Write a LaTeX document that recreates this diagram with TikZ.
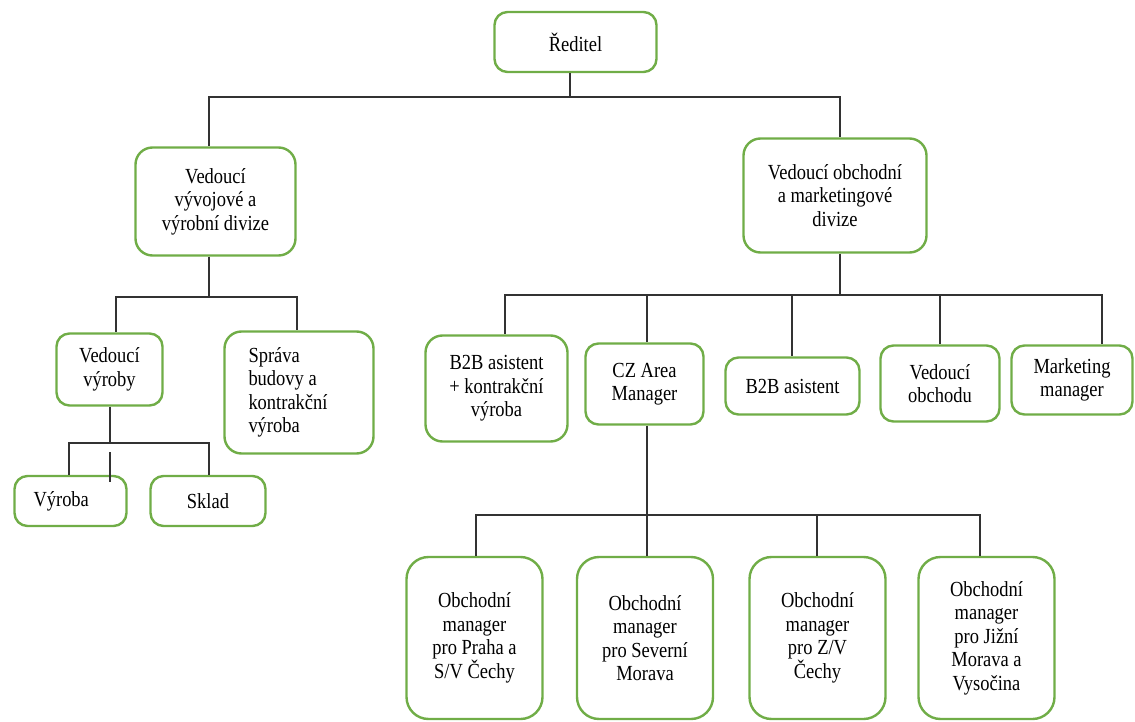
\documentclass[tikz,border=0pt]{standalone}
\usepackage{fontspec}
\setmainfont[FakeStretch=0.86]{Liberation Serif}
\definecolor{boxgreen}{RGB}{112,173,71}
\definecolor{linegray}{RGB}{50,50,50}
\newcommand\orgfont{\fontsize{21.5}{23.5}\selectfont}
\begin{document}
\begin{tikzpicture}[x=1pt,y=-1pt,
  orgbox/.style={draw=boxgreen, line width=2.4pt, rounded corners=13pt, fill=white,
    align=center, font=\orgfont, inner sep=3pt},
  bigbox/.style={orgbox, rounded corners=17pt},
  tallbox/.style={orgbox, rounded corners=22pt, minimum width=136pt, minimum height=162pt},
  conn/.style={draw=linegray, line width=1.2pt}]
\useasboundingbox (0,0) rectangle (1135,722);

% nodes
\node[orgbox, minimum width=162pt, minimum height=60pt] (dir) at (575.5,42) {Ředitel};
\node[bigbox, minimum width=160pt, minimum height=108pt] (vyv) at (215.5,201.5) {Vedoucí\\vývojové a\\výrobní divize};
\node[bigbox, minimum width=183pt, minimum height=114pt] (obch) at (835,195.5) {Vedoucí obchodní\\a marketingové\\divize};
\node[orgbox, minimum width=106pt, minimum height=72pt] (vvyr) at (109.5,369.5) {Vedoucí\\výroby};
\node[bigbox, align=flush left, text width=101pt, inner xsep=24pt, minimum height=122pt] (sprava) at (299,392.5) {Správa\\budovy a\\kontrakční\\výroba};
\node[orgbox, align=flush left, text width=74pt, inner xsep=19pt, minimum height=50pt] (vyroba) at (70.5,501) {Výroba};
\node[orgbox, minimum width=115pt, minimum height=50pt] (sklad) at (208,501) {Sklad};
\node[bigbox, minimum width=142pt, minimum height=106pt] (b2bk) at (496.5,388.5) {B2B asistent\\+ kontrakční\\výroba};
\node[orgbox, minimum width=118pt, minimum height=81pt] (cz) at (644.5,384) {CZ Area\\Manager};
\node[orgbox, minimum width=134pt, minimum height=57pt] (b2b) at (792.5,386) {B2B asistent};
\node[orgbox, minimum width=119pt, minimum height=76pt] (vobch) at (940,383.5) {Vedoucí\\obchodu};
\node[orgbox, minimum width=121pt, minimum height=69pt] (mkt) at (1072,380) {Marketing\\manager};
\node[tallbox] (om1) at (474.5,638) {Obchodní\\manager\\pro Praha a\\S/V Čechy};
\node[tallbox] (om2) at (645,638) {Obchodní\\manager\\pro Severní\\Morava};
\node[tallbox] (om3) at (817.5,638) {Obchodní\\manager\\pro Z/V\\Čechy};
\node[tallbox] (om4) at (986.5,638) {Obchodní\\manager\\pro Jižní\\Morava a\\Vysočina};

% junctions
\coordinate (j0) at (570,97);
\coordinate (j1) at (209,297);
\coordinate (j2) at (110,443);
\coordinate (j3) at (840,295);
\coordinate (j4) at (647,515);
\coordinate (s1) at (110,452);
\coordinate (s2) at (110,482);

% connectors
\draw[conn] (dir.south -| j0) -- (j0);
\draw[conn] (j0) -| ([xshift=-6.5pt]vyv.north);
\draw[conn] (j0) -| ([xshift=5pt]obch.north);

\draw[conn] (vyv.south -| j1) -- (j1);
\draw[conn] (j1) -| ([xshift=6.5pt]vvyr.north);
\draw[conn] (j1) -| ([xshift=-2pt]sprava.north);

\draw[conn] (vvyr.south -| j2) -- (j2);
\draw[conn] (j2) -| ([xshift=-1.5pt]vyroba.north);
\draw[conn] (j2) -| ([xshift=1pt]sklad.north);
\draw[conn] (s1) -- (s2);

\draw[conn] (obch.south -| j3) -- (j3);
\draw[conn] (j3) -| ([xshift=8.5pt]b2bk.north);
\draw[conn] (j3) -| ([xshift=2.5pt]cz.north);
\draw[conn] (j3) -| ([xshift=-0.5pt]b2b.north);
\draw[conn] (j3) -| (vobch.north);
\draw[conn] (j3) -| ([xshift=30pt]mkt.north);

\draw[conn] (cz.south -| j4) -- (j4);
\draw[conn] (j4) -| ([xshift=1.5pt]om1.north);
\draw[conn] (j4) -| ([xshift=2pt]om2.north);
\draw[conn] (j4) -| ([xshift=-0.5pt]om3.north);
\draw[conn] (j4) -| ([xshift=-6.5pt]om4.north);
\end{tikzpicture}
\end{document}
